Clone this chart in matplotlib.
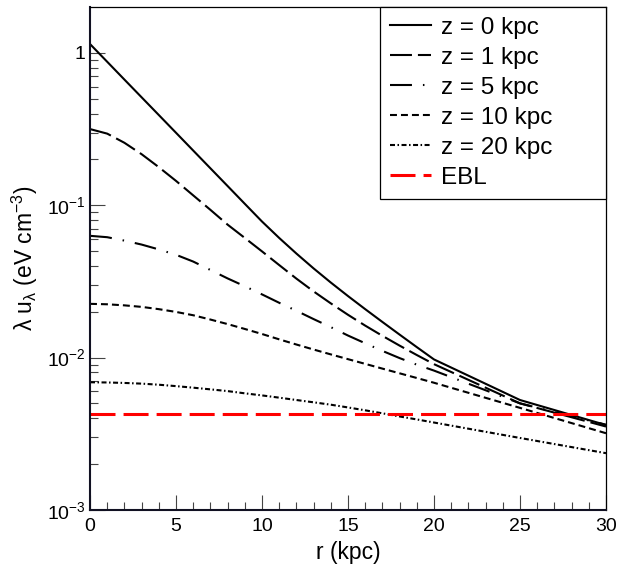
import matplotlib
matplotlib.use("Agg")
import matplotlib.pyplot as plt
from matplotlib.ticker import FixedLocator, NullFormatter

plt.rcParams['font.family'] = ['Liberation Sans', 'DejaVu Sans']
plt.rcParams['mathtext.fontset'] = 'custom'
plt.rcParams['mathtext.rm'] = 'Liberation Sans'
plt.rcParams['mathtext.it'] = 'Liberation Sans:italic'
plt.rcParams['mathtext.bf'] = 'Liberation Sans:bold'
plt.rcParams['lines.scale_dashes'] = False

# ---- data ----
r_kpc = [0, 1, 2, 3, 4, 5, 6, 7, 8, 9, 10, 11, 12, 13, 14, 15, 16, 17, 18, 19, 20, 25, 30]
u_z0 = [1.143, 0.874, 0.668, 0.511, 0.391, 0.299, 0.2286, 0.1748, 0.1337, 0.1022, 0.0782,
        0.0610, 0.0482, 0.0385, 0.0311, 0.02535, 0.0208, 0.01714, 0.01416, 0.01172,
        0.00973, 0.00527, 0.00361]
u_z1 = [0.3162, 0.2951, 0.2570, 0.2163, 0.1778, 0.1445, 0.1161, 0.0933, 0.0746, 0.0610,
        0.0498, 0.0405, 0.0330, 0.0272, 0.0227, 0.0191, 0.01622, 0.01390, 0.01199,
        0.01040, 0.00906, 0.00501, 0.00353]
u_z5 = [0.0630, 0.0617, 0.0586, 0.0552, 0.0513, 0.0473, 0.0427, 0.0376, 0.0331, 0.0294,
        0.0260, 0.0229, 0.0203, 0.0179, 0.01585, 0.01396, 0.01242, 0.01107, 0.00993,
        0.00899, 0.00822, 0.00501, 0.00363]
u_z10 = [0.02254, 0.02239, 0.02203, 0.02153, 0.02080, 0.01995, 0.01897, 0.01778, 0.01660,
         0.01542, 0.01429, 0.01318, 0.01219, 0.01130, 0.01050, 0.00977, 0.00910, 0.00847,
         0.00789, 0.00735, 0.00684, 0.00468, 0.00319]
u_z20 = [0.00689, 0.00687, 0.00682, 0.00675, 0.00664, 0.00650, 0.00635, 0.00619, 0.00603,
         0.00583, 0.00565, 0.00546, 0.00527, 0.00509, 0.00491, 0.00471, 0.00451, 0.00431,
         0.00411, 0.00393, 0.00375, 0.00297, 0.00236]
ebl_level = 0.00427
ebl_r = [0, 30]

labels = ['z = 0 kpc', 'z = 1 kpc', 'z = 5 kpc', 'z = 10 kpc', 'z = 20 kpc', 'EBL']
xticks = [0, 5, 10, 15, 20, 25, 30]
yticks = [1e-3, 1e-2, 1e-1, 1]
ytick_labels = [r'$\mathregular{10^{-3}}$', r'$\mathregular{10^{-2}}$',
                r'$\mathregular{10^{-1}}$', '1']

# ---- figure ----
W, H = 633, 572
fig = plt.figure(figsize=(W / 100, H / 100), dpi=100)
ax = fig.add_axes([90 / W, 1 - 510 / H, (606 - 90) / W, (510 - 7) / H])

lw = 1.5
ax.plot(r_kpc, u_z0, color='k', lw=lw, label=labels[0])
ax.plot(r_kpc, u_z1, color='k', lw=lw, dashes=(15.8, 4.3), label=labels[1])
ax.plot(r_kpc, u_z5, color='k', lw=lw, dashes=(15.8, 7.9, 1.1, 7.9), label=labels[2])
ax.plot(r_kpc, u_z10, color='k', lw=lw, dashes=(5.0, 2.9), label=labels[3])
ax.plot(r_kpc, u_z20, color='k', lw=lw, dashes=(3.6, 1.8, 1.1, 1.8), label=labels[4])
ax.plot(ebl_r, [ebl_level] * len(ebl_r), color='#ff0000', lw=2.2, dashes=(18, 5.8),
        label=labels[5])

ax.set_yscale('log')
ax.set_xlim(0, 30)
ax.set_ylim(1e-3, 2.0)

ax.xaxis.set_major_locator(FixedLocator(xticks))
ax.xaxis.set_minor_locator(FixedLocator([i for i in range(31) if i % 5 != 0]))
ax.yaxis.set_major_locator(FixedLocator(yticks))
ax.set_yticklabels(ytick_labels)
minor_y = [m * 10.0 ** e for e in (-3, -2, -1, 0) for m in range(2, 10) if m * 10.0 ** e < 2.0]
ax.yaxis.set_minor_locator(FixedLocator(minor_y))
ax.yaxis.set_minor_formatter(NullFormatter())

ax.tick_params(which='both', direction='in', top=False, right=False, color='#444444',
               width=0.8)
ax.tick_params(which='major', length=11, labelsize=14)
ax.tick_params(axis='x', which='major', pad=6)
ax.tick_params(axis='y', which='major', pad=3)
ax.tick_params(which='minor', length=6)

for s in ('left', 'bottom'):
    ax.spines[s].set_linewidth(1.5)
    ax.spines[s].set_color('#111122')
for s in ('top', 'right'):
    ax.spines[s].set_linewidth(0.9)
    ax.spines[s].set_color('k')

ax.set_xlabel('r (kpc)', fontsize=16.5, labelpad=4)
ax.set_ylabel(r'λ u$_{\mathregular{λ}}$ (eV cm$^{\mathregular{-3}}$)', fontsize=16.5,
              labelpad=5)

x0 = (380 - 90) / (606 - 90)
leg = ax.legend(loc='upper left', bbox_to_anchor=(x0, 0, 1 - x0, 1.0), mode='expand',
                fontsize=17.5, frameon=True, fancybox=False, framealpha=1,
                edgecolor='k', borderaxespad=0, borderpad=0.4, labelspacing=0.33,
                handlelength=1.7, handletextpad=0.4)
leg.get_frame().set_linewidth(0.9)

fig.savefig('out.png', dpi=100)
